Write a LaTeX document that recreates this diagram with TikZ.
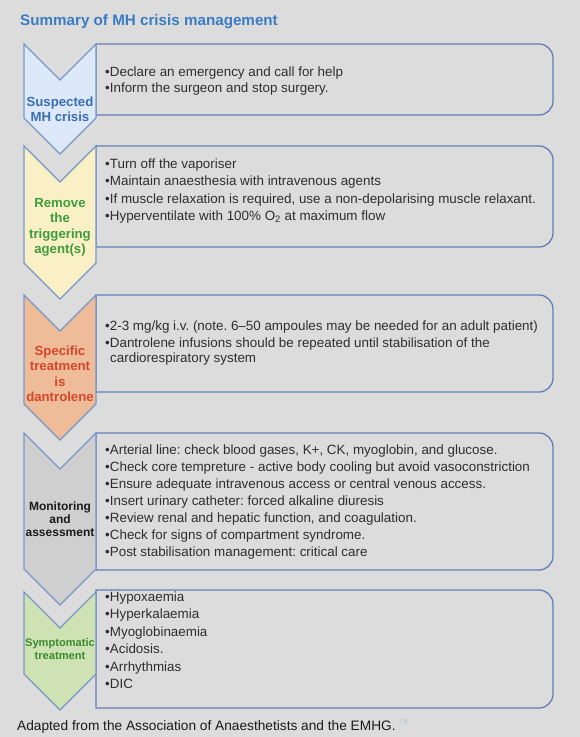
\documentclass[tikz,border=0pt]{standalone}
\usepackage{fontspec}
\setmainfont{Liberation Sans}
\frenchspacing
\definecolor{bg}{HTML}{DCDCDC}
\definecolor{boxline}{HTML}{5F7FB7}
\definecolor{chevline}{HTML}{7797C8}
\definecolor{titleblue}{HTML}{3A7CC3}
\definecolor{txtgray}{HTML}{2E2E2E}
\definecolor{fillA}{HTML}{DDE9F8}
\definecolor{fillB}{HTML}{FAF0C6}
\definecolor{fillC}{HTML}{EEBC98}
\definecolor{fillD}{HTML}{CFCFCF}
\definecolor{fillE}{HTML}{CFE2B4}
\definecolor{labA}{HTML}{3A6DB5}
\definecolor{labB}{HTML}{3E9C3C}
\definecolor{labC}{HTML}{D6462A}
\definecolor{labD}{HTML}{1A1A1A}
\definecolor{labE}{HTML}{3A8A2E}
\definecolor{supblue}{HTML}{A9BFDF}
\begin{document}
\begin{tikzpicture}[x=1pt,y=-1pt,
  boxstyle/.style={draw=boxline, line width=1.3pt, fill=bg},
  chevstyle/.style={draw=chevline, line width=1.2pt},
  txt/.style={anchor=base west, inner sep=0pt, text=txtgray, font=\fontsize{13.4}{16}\selectfont},
  lab/.style={align=center, inner sep=0pt, font=\bfseries\fontsize{13.2}{15.5}\selectfont}]
\fill[bg] (0,0) rectangle (580,737);
\useasboundingbox (0,0) rectangle (580,737);
% title
\node[anchor=base west, inner sep=0pt, text=titleblue, font=\bfseries\fontsize{15.2}{18}\selectfont] (title) at (20,25) {Summary of MH crisis management};
% boxes: left x=96, right x=553, radius 14
\def\R{14}
\foreach \ya/\yb/\nm in {44/115/boxA, 146/247/boxB, 295/392/boxC, 433/570/boxD, 590/708/boxE}{
  \draw[boxstyle] (96,\ya) -- (553-\R,\ya) arc[start angle=-90, end angle=0, radius=\R] -- (553,\yb-\R) arc[start angle=0, end angle=90, radius=\R] -- (96,\yb) -- cycle;
  \coordinate (\nm) at (96,\ya);
}
% chevrons
\foreach \t/\s/\f/\nm in {44/118/fillA/chA, 146/263/fillB/chB, 295/404/fillC/chC, 433/569/fillD/chD, 592/674/fillE/chE}{
  \draw[chevstyle, fill=\f] (24,\t) -- (60,\t+36) -- (96,\t) -- (96,\s) -- (60,\s+36) -- (24,\s) -- cycle;
  \coordinate (\nm) at (60,\t);
}
% chevron labels
\node[lab, text=labA] (labA) at (60,109.5) {Suspected\\MH crisis};
\node[lab, text=labB] (labB) at (60,227.5) {Remove\\the\\triggering\\agent(s)};
\node[lab, text=labC] (labC) at (60,374) {Specific\\treatment\\is\\dantrolene};
\node[lab, text=labD, font=\bfseries\fontsize{12}{13.2}\selectfont] (labD) at (60,519.5) {Monitoring\\and\\assessment};
\node[lab, text=labE, font=\bfseries\fontsize{11.1}{13.2}\selectfont] (labE) at (60,649) {Symptomatic\\treatment};
% box 1
\node[txt] (a1) at (105,76.5) {•Declare an emergency and call for help};
\node[txt] (a2) at (105,92.5) {•Inform the surgeon and stop surgery.};
% box 2
\foreach \t [count=\i] in {{•Turn off the vaporiser},
  {•Maintain anaesthesia with intravenous agents},
  {•If muscle relaxation is required, use a non-depolarising muscle relaxant.},
  {•Hyperventilate with 100\% O\textsubscript{2} at maximum flow}}{
  \node[txt] (b\i) at (105,168.5+17.3*\i-17.3) {\t};
}
% box 3
\node[txt] (c1) at (105,330.5) {•2-3 mg/kg i.v. (note. 6–50 ampoules may be needed for an adult patient)};
\node[txt] (c2) at (105,347.5) {•Dantrolene infusions should be repeated until stabilisation of the};
\node[txt] (c3) at (110,362.5) {cardiorespiratory system};
% box 4
\foreach \t [count=\i] in {{•Arterial line: check blood gases, K+, CK, myoglobin, and glucose.},
  {•Check core tempreture - active body cooling but avoid vasoconstriction},
  {•Ensure adequate intravenous access or central venous access.},
  {•Insert urinary catheter: forced alkaline diuresis},
  {•Review renal and hepatic function, and coagulation.},
  {•Check for signs of compartment syndrome.},
  {•Post stabilisation management: critical care}}{
  \node[txt] (d\i) at (105,454.5+17*\i-17) {\t};
}
% box 5
\foreach \t [count=\i] in {{•Hypoxaemia},{•Hyperkalaemia},{•Myoglobinaemia},{•Acidosis.},{•Arrhythmias},{•DIC}}{
  \node[txt] (e\i) at (105,601.5+17.4*\i-17.4) {\t};
}
% footer
\node[anchor=base west, inner sep=0pt, text=labD, font=\fontsize{13.7}{16}\selectfont] (foot) at (17,730) {Adapted from the Association of Anaesthetists and the EMHG.};
\node[anchor=base west, inner sep=0pt, text=supblue, font=\fontsize{7}{8}\selectfont, xshift=2pt, yshift=5.5pt] (footsup) at (foot.base east) {7,8};
\end{tikzpicture}
\end{document}
